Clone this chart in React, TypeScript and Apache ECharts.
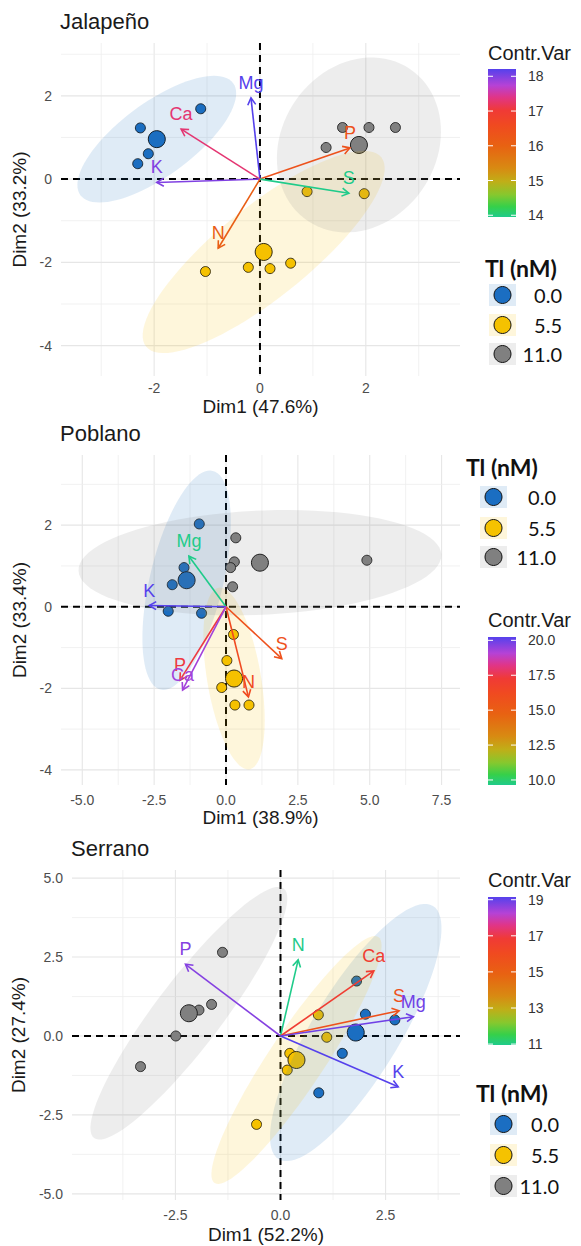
import React, { useEffect, useRef } from "react";
import * as echarts from "echarts";

const FONT = "'Liberation Sans', Arial, Helvetica, sans-serif";
const LEGEND_FONT = "Lato, 'Open Sans', sans-serif";

// ---------- shared data ----------
const GROUP_LABELS = ["0.0", "5.5", "11.0"];
const GROUP_COLORS = ["#1B6EC2", "#F5C200", "#808080"];
const GROUP_FILLS = ["rgba(27,110,194,0.14)", "rgba(245,194,0,0.14)", "rgba(128,128,128,0.14)"];
const LEGEND_TITLE = "Tl (nM)";
const BAR_TITLE = "Contr.Var";

// ---------- Jalapeño ----------
const J_TITLE = "Jalapeño";
const J_XNAME = "Dim1 (47.6%)";
const J_YNAME = "Dim2 (33.2%)";
const J_XRANGE = [-3.76, 3.78];
const J_YRANGE = [-4.73, 3.27];
const J_XTICKS = [-2, 0, 2];
const J_YTICKS = [-4, -2, 0, 2];
const J_XMINOR = [-3, -1, 1, 3];
const J_YMINOR = [-3, -1, 1, 3];
const J_PTS_0 = [[-2.26, 1.23], [-1.12, 1.69], [-2.11, 0.61], [-2.31, 0.37]];
const J_PTS_55 = [[0.89, -0.3], [1.97, -0.35], [-1.03, -2.22], [-0.22, -2.12], [0.19, -2.15], [0.58, -2.02]];
const J_PTS_11 = [[1.56, 1.24], [2.06, 1.24], [2.56, 1.24], [1.25, 0.76]];
const J_MEANS = [[-1.95, 0.96], [0.07, -1.75], [1.87, 0.82]];
const J_ELLIPSES = [[1.443, 1.346, 0.41, -0.711], [2.222, 2.274, 0.541, -0.855], [0.964, 1.827, 1.214, -1.038]];
const J_VARS = ["Mg", "Ca", "K", "P", "S", "N"];
const J_VAR_X = [-0.17, -1.49, -1.95, 1.7, 1.68, -0.79];
const J_VAR_Y = [1.95, 1.2, -0.08, 0.75, -0.34, -1.66];
const J_CONTRIB = [18.21, 17.3, 18.0, 16.4, 13.95, 16.1];
const J_BAR_TICKS = [18, 17, 16, 15, 14];

// ---------- Poblano ----------
const P_TITLE = "Poblano";
const P_XNAME = "Dim1 (38.9%)";
const P_YNAME = "Dim2 (33.4%)";
const P_XRANGE = [-5.74, 8.14];
const P_YRANGE = [-4.37, 3.72];
const P_XTICKS = [-5, -2.5, 0, 2.5, 5, 7.5];
const P_YTICKS = [-4, -2, 0, 2];
const P_XMINOR = [-3.75, -1.25, 1.25, 3.75, 6.25];
const P_YMINOR = [-3, -1, 1, 3];
const P_PTS_0 = [[-0.93, 2.03], [-1.46, 0.96], [-1.87, 0.54], [-2.01, -0.11], [-0.85, -0.16]];
const P_PTS_55 = [[0.26, -0.68], [0.03, -1.32], [-0.15, -1.98], [0.31, -2.41], [0.8, -2.41]];
const P_PTS_11 = [[0.34, 1.69], [0.29, 1.1], [0.16, 0.96], [0.23, 0.49], [4.9, 1.14]];
const P_MEANS = [[-1.37, 0.65], [0.28, -1.76], [1.18, 1.08]];
const P_ELLIPSES = [[0.91, 2.68, 1.24, -0.21], [0.536, -2.227, 0.923, 0.11], [6.31, 0.2, 0.08, -1.275]];
const P_VARS = ["Mg", "K", "S", "N", "P", "Ca"];
const P_VAR_X = [-1.29, -2.67, 1.94, 0.78, -1.6, -1.51];
const P_VAR_Y = [1.24, 0.03, -1.27, -2.21, -1.8, -2.04];
const P_CONTRIB = [9.64, 20.24, 15.8, 16.2, 17.4, 19.3];
const P_BAR_TICKS = [20, 17.5, 15, 12.5, 10];

// ---------- Serrano ----------
const S_TITLE = "Serrano";
const S_XNAME = "Dim1 (52.2%)";
const S_YNAME = "Dim2 (27.4%)";
const S_XRANGE = [-4.96, 4.27];
const S_YRANGE = [-5.195, 5.258];
const S_XTICKS = [-2.5, 0, 2.5];
const S_YTICKS = [-5, -2.5, 0, 2.5, 5];
const S_XMINOR = [-3.75, -1.25, 1.25, 3.75];
const S_YMINOR = [-3.75, -1.25, 1.25, 3.75];
const S_PTS_0 = [[1.81, 1.74], [2.02, 0.69], [2.72, 0.51], [1.47, -0.55], [0.91, -1.8]];
const S_PTS_55 = [[0.9, 0.67], [1.1, -0.04], [0.22, -0.55], [0.16, -1.08], [-0.57, -2.8]];
const S_PTS_11 = [[-1.38, 2.65], [-1.64, 1.0], [-1.94, 0.82], [-2.49, 0.0], [-3.33, -0.97]];
const S_MEANS = [[1.79, 0.11], [0.38, -0.76], [-2.18, 0.72]];
const S_ELLIPSES = [[1.836, 4.01, 0.888, -0.719], [1.948, 3.898, 0.549, -0.486], [2.256, 3.95, 0.628, -0.635]];
const S_VARS = ["P", "N", "Ca", "S", "Mg", "K"];
const S_VAR_X = [-2.26, 0.42, 2.22, 2.82, 3.16, 2.8];
const S_VAR_Y = [2.27, 2.41, 2.06, 0.8, 0.61, -1.61];
const S_CONTRIB = [18.7, 10.95, 16.7, 15.7, 18.9, 19.15];
const S_BAR_TICKS = [19, 17, 15, 13, 11];

// ---------- colour gradient (bottom = low contribution) ----------
const STOPS: [number, string][] = [
  [0, "#1FCB8A"],
  [0.07, "#36D04A"],
  [0.15, "#86C82E"],
  [0.24, "#C0AE18"],
  [0.33, "#D88A12"],
  [0.48, "#E86212"],
  [0.62, "#F04A20"],
  [0.72, "#F03A36"],
  [0.81, "#E03588"],
  [0.89, "#B542D6"],
  [1, "#5541EC"],
];

function rgbOf(h: string) {
  const n = parseInt(h.slice(1), 16);
  return [(n >> 16) & 255, (n >> 8) & 255, n & 255];
}
function gradColor(f: number) {
  f = Math.max(0, Math.min(1, f));
  for (let i = 0; i < STOPS.length - 1; i++) {
    const [o0, c0] = STOPS[i];
    const [o1, c1] = STOPS[i + 1];
    if (f <= o1) {
      const t = (f - o0) / (o1 - o0);
      const a = rgbOf(c0), b = rgbOf(c1);
      const c = a.map((v, k) => Math.round(v + (b[k] - v) * t));
      return `rgb(${c[0]},${c[1]},${c[2]})`;
    }
  }
  return STOPS[STOPS.length - 1][1];
}

const PANELS = [
  {
    title: J_TITLE, xName: J_XNAME, yName: J_YNAME, xRange: J_XRANGE, yRange: J_YRANGE,
    xTicks: J_XTICKS, yTicks: J_YTICKS, xMinor: J_XMINOR, yMinor: J_YMINOR, xDigits: 0, yDigits: 0,
    pts: [J_PTS_0, J_PTS_55, J_PTS_11], means: J_MEANS, ellipses: J_ELLIPSES,
    vars: J_VARS, varX: J_VAR_X, varY: J_VAR_Y, contrib: J_CONTRIB, barTicks: J_BAR_TICKS, barDigits: 0,
    L: { left: 61, top: 43, width: 399, height: 333, titleTop: 10, xGap: 21, yGap: 25, xMargin: 5,
      barTop: 69, barTitleY: 53, tlX: 485, tlY: 268, rows: [295, 325, 354], keyX: 489, labelRight: 562 },
  },
  {
    title: P_TITLE, xName: P_XNAME, yName: P_YNAME, xRange: P_XRANGE, yRange: P_YRANGE,
    xTicks: P_XTICKS, yTicks: P_YTICKS, xMinor: P_XMINOR, yMinor: P_YMINOR, xDigits: 1, yDigits: 0,
    pts: [P_PTS_0, P_PTS_55, P_PTS_11], means: P_MEANS, ellipses: P_ELLIPSES,
    vars: P_VARS, varX: P_VAR_X, varY: P_VAR_Y, contrib: P_CONTRIB, barTicks: P_BAR_TICKS, barDigits: 1,
    L: { left: 61, top: 455, width: 399, height: 330, titleTop: 422, xGap: 20, yGap: 25, xMargin: 8,
      barTop: 637, barTitleY: 620, tlX: 466, tlY: 467, rows: [497, 528, 557], keyX: 480, labelRight: 556 },
  },
  {
    title: S_TITLE, xName: S_XNAME, yName: S_YNAME, xRange: S_XRANGE, yRange: S_YRANGE,
    xTicks: S_XTICKS, yTicks: S_YTICKS, xMinor: S_XMINOR, yMinor: S_YMINOR, xDigits: 1, yDigits: 1,
    pts: [S_PTS_0, S_PTS_55, S_PTS_11], means: S_MEANS, ellipses: S_ELLIPSES,
    vars: S_VARS, varX: S_VAR_X, varY: S_VAR_Y, contrib: S_CONTRIB, barTicks: S_BAR_TICKS, barDigits: 0,
    L: { left: 72, top: 870, width: 388, height: 330, titleTop: 837, xGap: 25, yGap: 36, xMargin: 8,
      barTop: 897, barTitleY: 880, tlX: 476, tlY: 1093, rows: [1124, 1155, 1186], keyX: 490, labelRight: 559 },
  },
];

const BAR_W = 28;
const BAR_H = 148;

function txt(x: number, y: number, text: string, font: string, fill: string, align: string, valign = "middle") {
  return {
    type: "text", x, y, silent: true, z: 10,
    style: { text, font, fill, align, verticalAlign: valign, textAlign: align, textVerticalAlign: valign },
  };
}

function buildOption() {
  const title: any[] = [], grid: any[] = [], xAxis: any[] = [], yAxis: any[] = [], series: any[] = [], graphic: any[] = [];

  PANELS.forEach((p, i) => {
    const L = p.L;
    title.push({
      text: p.title, left: L.left - 1, top: L.titleTop, padding: 0,
      textStyle: { fontSize: 22, fontWeight: "normal", color: "#1a1a1a", fontFamily: FONT },
    });
    grid.push({ left: L.left, top: L.top, width: L.width, height: L.height, containLabel: false, outerBoundsMode: "none" });
    xAxis.push({
      gridIndex: i, type: "value", min: p.xRange[0], max: p.xRange[1],
      axisLine: { show: false }, axisTick: { show: false }, splitLine: { show: false },
      axisLabel: {
        customValues: p.xTicks, color: "#4D4D4D", fontSize: 14, fontFamily: FONT, margin: L.xMargin,
        formatter: (v: number) => v.toFixed(p.xDigits),
      },
      name: p.xName, nameLocation: "middle", nameGap: L.xGap,
      nameTextStyle: { fontSize: 19, color: "#1a1a1a", fontFamily: FONT, verticalAlign: "top" },
    });
    yAxis.push({
      gridIndex: i, type: "value", min: p.yRange[0], max: p.yRange[1],
      axisLine: { show: false }, axisTick: { show: false }, splitLine: { show: false },
      axisLabel: {
        customValues: p.yTicks, color: "#4D4D4D", fontSize: 14, fontFamily: FONT, margin: 9,
        formatter: (v: number) => v.toFixed(p.yDigits),
      },
      name: p.yName, nameLocation: "middle", nameGap: L.yGap,
      nameTextStyle: { fontSize: 19, color: "#1a1a1a", fontFamily: FONT },
    });

    // grid lines (vertical)
    const vData = [...p.xTicks.map((v) => [v, 0, 1]), ...p.xMinor.map((v) => [v, 0, 0])];
    series.push({
      type: "custom", xAxisIndex: i, yAxisIndex: i, z: 0, silent: true, data: vData,
      encode: { x: 0, y: 1 },
      renderItem: (params: any, api: any) => {
        const cs = params.coordSys;
        const px = api.coord([api.value(0), 0])[0];
        return {
          type: "line", shape: { x1: px, y1: cs.y, x2: px, y2: cs.y + cs.height },
          style: { stroke: api.value(2) ? "#E6E6E6" : "#EEEEEE", lineWidth: api.value(2) ? 1.1 : 0.8 },
        };
      },
    });
    // grid lines (horizontal)
    const hData = [...p.yTicks.map((v) => [0, v, 1]), ...p.yMinor.map((v) => [0, v, 0])];
    series.push({
      type: "custom", xAxisIndex: i, yAxisIndex: i, z: 0, silent: true, data: hData,
      encode: { x: 0, y: 1 },
      renderItem: (params: any, api: any) => {
        const cs = params.coordSys;
        const py = api.coord([0, api.value(1)])[1];
        return {
          type: "line", shape: { x1: cs.x, y1: py, x2: cs.x + cs.width, y2: py },
          style: { stroke: api.value(2) ? "#E6E6E6" : "#EEEEEE", lineWidth: api.value(2) ? 1.1 : 0.8 },
        };
      },
    });
    // dashed zero lines
    series.push({
      type: "custom", xAxisIndex: i, yAxisIndex: i, z: 1, silent: true, data: [[0, 0]],
      encode: { x: 0, y: 1 },
      renderItem: (params: any, api: any) => {
        const cs = params.coordSys;
        const o = api.coord([0, 0]);
        const st = { stroke: "#000", lineWidth: 2, lineDash: [7, 5] };
        return {
          type: "group",
          children: [
            { type: "line", shape: { x1: cs.x, y1: o[1], x2: cs.x + cs.width, y2: o[1] }, style: st },
            { type: "line", shape: { x1: o[0], y1: cs.y, x2: o[0], y2: cs.y + cs.height }, style: st },
          ],
        };
      },
    });
    // individual points
    p.pts.forEach((pts, g) => {
      series.push({
        type: "scatter", xAxisIndex: i, yAxisIndex: i, z: 2, data: pts, symbol: "circle", symbolSize: 10,
        itemStyle: { color: GROUP_COLORS[g], borderColor: "#111", borderWidth: 0.9, opacity: 1 },
      });
    });
    // group mean points
    series.push({
      type: "scatter", xAxisIndex: i, yAxisIndex: i, z: 2, symbol: "circle", symbolSize: 17,
      data: p.means.map((m, g) => ({ value: m, itemStyle: { color: GROUP_COLORS[g] } })),
      itemStyle: { borderColor: "#111", borderWidth: 1, opacity: 1 },
    });
    // confidence ellipses
    series.push({
      type: "custom", xAxisIndex: i, yAxisIndex: i, z: 3, silent: true,
      data: p.means.map((m, g) => [m[0], m[1], ...p.ellipses[g]]),
      encode: { x: 0, y: 1 },
      renderItem: (params: any, api: any) => {
        const cx = api.value(0), cy = api.value(1);
        const ux = api.value(2), uy = api.value(3), vx = api.value(4), vy = api.value(5);
        const pts: number[][] = [];
        for (let k = 0; k < 90; k++) {
          const t = (k / 90) * Math.PI * 2;
          pts.push(api.coord([cx + ux * Math.cos(t) + vx * Math.sin(t), cy + uy * Math.cos(t) + vy * Math.sin(t)]));
        }
        return { type: "polygon", shape: { points: pts }, style: { fill: GROUP_FILLS[params.dataIndex], stroke: "none" } };
      },
    });
    // variable arrows
    const cmin = Math.min(...p.contrib), cmax = Math.max(...p.contrib);
    const colors = p.contrib.map((c) => gradColor((c - cmin) / (cmax - cmin)));
    series.push({
      type: "custom", xAxisIndex: i, yAxisIndex: i, z: 4, silent: true,
      data: p.varX.map((x, k) => [x, p.varY[k], p.contrib[k]]),
      encode: { x: 0, y: 1 },
      renderItem: (params: any, api: any) => {
        const k = params.dataIndex;
        const o = api.coord([0, 0]);
        const t = api.coord([api.value(0), api.value(1)]);
        const dx = t[0] - o[0], dy = t[1] - o[1];
        const len = Math.hypot(dx, dy) || 1;
        const ux = dx / len, uy = dy / len;
        const h = 8, a = Math.PI / 6, ca = Math.cos(a), sa = Math.sin(a);
        const l1 = [t[0] - h * (ux * ca - uy * sa), t[1] - h * (uy * ca + ux * sa)];
        const l2 = [t[0] - h * (ux * ca + uy * sa), t[1] - h * (uy * ca - ux * sa)];
        const col = colors[k];
        return {
          type: "group",
          children: [
            { type: "line", shape: { x1: o[0], y1: o[1], x2: t[0], y2: t[1] }, style: { stroke: col, lineWidth: 1.6 } },
            { type: "polyline", shape: { points: [l1, t, l2] }, style: { stroke: col, lineWidth: 1.6, fill: "none" } },
            {
              type: "text",
              style: {
                x: t[0], y: t[1] - 15, text: p.vars[k], fill: col, font: `18px ${FONT}`,
                align: "center", verticalAlign: "middle", textAlign: "center", textVerticalAlign: "middle",
              },
            },
          ],
        };
      },
    });

    // ---- colour bar legend ----
    const BX = 488;
    graphic.push(txt(BX, L.barTitleY, BAR_TITLE, `20px ${FONT}`, "#1a1a1a", "left"));
    graphic.push({
      type: "rect", silent: true, z: 10,
      shape: { x: BX, y: L.barTop, width: BAR_W, height: BAR_H },
      style: {
        fill: new echarts.graphic.LinearGradient(0, 1, 0, 0, STOPS.map(([off, c]) => ({ offset: off, color: c }))),
      },
    });
    p.barTicks.forEach((v) => {
      const yv = L.barTop + ((cmax - v) / (cmax - cmin)) * BAR_H;
      graphic.push({ type: "line", silent: true, z: 11, shape: { x1: BX, y1: yv, x2: BX + 5, y2: yv }, style: { stroke: "#fff", lineWidth: 1 } });
      graphic.push({ type: "line", silent: true, z: 11, shape: { x1: BX + BAR_W - 5, y1: yv, x2: BX + BAR_W, y2: yv }, style: { stroke: "#fff", lineWidth: 1 } });
      graphic.push(txt(BX + 40, yv, v.toFixed(p.barDigits), `14px ${FONT}`, "#333", "left"));
    });

    // ---- Tl (nM) legend ----
    graphic.push(txt(L.tlX, L.tlY, LEGEND_TITLE, `bold 23px ${LEGEND_FONT}`, "#111", "left"));
    GROUP_LABELS.forEach((lab, g) => {
      const ry = L.rows[g];
      graphic.push({
        type: "rect", silent: true, z: 10,
        shape: { x: L.keyX, y: ry - 11, width: 27, height: 22 },
        style: { fill: GROUP_FILLS[g] },
      });
      graphic.push({
        type: "circle", silent: true, z: 11,
        shape: { cx: L.keyX + 13.5, cy: ry, r: 8.5 },
        style: { fill: GROUP_COLORS[g], stroke: "#111", lineWidth: 1 },
      });
      graphic.push(txt(L.labelRight, ry, lab, `20px ${LEGEND_FONT}`, "#111", "right"));
    });
  });

  return {
    animation: false,
    backgroundColor: "#ffffff",
    textStyle: { fontFamily: FONT },
    title, grid, xAxis, yAxis, series, graphic,
  };
}

export default function App() {
  const ref = useRef<HTMLDivElement>(null);
  useEffect(() => {
    const chart = echarts.init(ref.current as HTMLDivElement, undefined, { renderer: "svg" });
    chart.setOption(buildOption() as any);
    return () => chart.dispose();
  }, []);
  return (
    <div
      ref={ref}
      style={{ position: "absolute", left: 0, top: 0, width: 581, height: 1246, background: "#fff" }}
    />
  );
}
